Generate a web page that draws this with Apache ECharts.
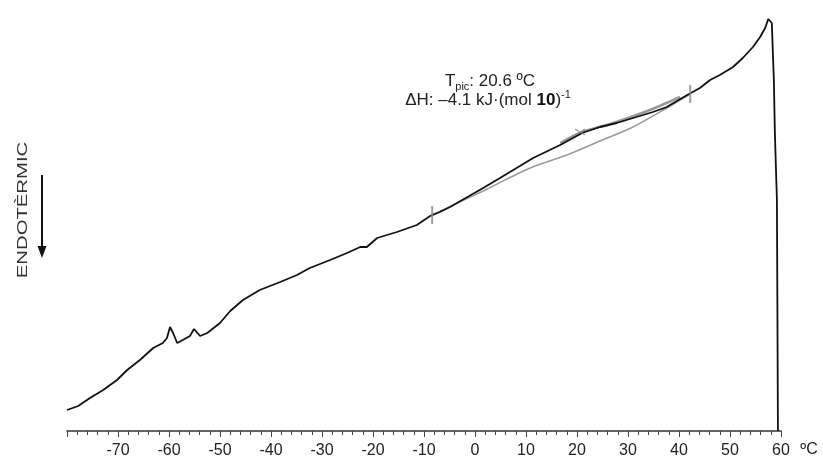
<!DOCTYPE html>
<html>
<head>
<meta charset="utf-8">
<style>
  html, body { margin: 0; padding: 0; background: #fff; }
  #container { width: 823px; height: 459px; }
</style>
<script src="https://cdn.jsdelivr.net/npm/echarts@6/dist/echarts.min.js"></script>
</head>
<body>
<div id="container"></div>
<script>
// DSC trace: temperature (ºC) and signal (arbitrary units, endo down)
var tempC = [-80.0, -77.8, -75.5, -72.9, -70.2, -68.2, -65.7, -63.1, -61.2, -60.4, -59.8, -59.2, -58.4, -57.3,
             -55.9, -55.1, -53.9, -52.5, -50.0, -48.0, -45.5, -42.2, -38.2, -34.9, -32.4, -28.4, -25.1, -22.5,
             -21.2, -19.2, -15.3, -11.4, -8.8, -6.9, -4.9, 1.6, 4.9, 11.4, 16.7, 21.0, 24.5, 27.8, 31.0, 34.9,
             37.6, 41.6, 44.1, 46.1, 48.0, 50.6, 52.5, 54.5, 55.9, 56.9, 57.5, 57.8, 58.2, 58.6, 58.8, 59.2, 59.4];
var heatFlow = [21, 25, 33, 41, 51, 61, 71, 83, 88, 93, 104, 98, 88, 91,
                95, 102, 95, 98, 108, 120, 131, 141, 149, 156, 163, 171, 178, 184,
                184, 193, 199, 206, 215, 219, 224, 243, 253, 273, 286, 298, 304, 308, 313, 319,
                324, 336, 343, 351, 356, 364, 373, 384, 394, 403, 412, 414, 408, 351, 298, 231, 0];

// integration baseline (grey)
var baseT = [-8.4, 1.6, 10.8, 18.0, 24.5, 31.0, 37.6, 42.2];
var baseV = [216, 240, 263, 276, 290, 304, 323, 337];

// grey overlay on the peak region
var overT = [16.7, 21.0, 26.5, 34.3, 40.2];
var overV = [288, 299, 307, 321, 334];

// integration limits and peak marker
var limitT = [-8.4, 42.2];
var limitV = [216, 337];
var peakT = 20.6;
var peakV = 299;

var xTicks = { min: -80, max: 60, interval: 10 };

function pairs(xs, ys) {
    var out = [];
    for (var i = 0; i < xs.length; i++) out.push([xs[i], ys[i]]);
    return out;
}

var font = "'Liberation Sans', Arial, sans-serif";
var chart = echarts.init(document.getElementById('container'));

var option = {
    animation: false,
    backgroundColor: '#fff',
    grid: { left: 67, right: 42, top: 0, bottom: 28 },
    xAxis: {
        type: 'value',
        min: xTicks.min,
        max: xTicks.max,
        interval: xTicks.interval,
        splitLine: { show: false },
        axisLine: { show: true, lineStyle: { color: '#333', width: 1.5 } },
        axisTick: { show: true, length: 6, lineStyle: { color: '#444', width: 1 } },
        minorTick: { show: true, splitNumber: 5, length: 4, lineStyle: { color: '#444', width: 1 } },
        axisLabel: { showMinLabel: false, margin: 12, fontSize: 16, fontFamily: font, color: '#222' }
    },
    yAxis: {
        type: 'value',
        min: 0,
        max: 431,
        show: false,
        splitLine: { show: false }
    },
    series: [
        {
            type: 'line',
            data: pairs(baseT, baseV),
            smooth: 0.3,
            symbol: 'none',
            lineStyle: { color: '#999', width: 1.5 },
            z: 2
        },
        {
            type: 'line',
            data: pairs(overT, overV),
            smooth: 0.3,
            symbol: 'none',
            lineStyle: { color: '#999', width: 2.5 },
            z: 2
        },
        {
            type: 'line',
            data: pairs(tempC, heatFlow),
            symbol: 'none',
            lineStyle: { color: '#111', width: 1.8 },
            z: 3
        },
        {
            type: 'scatter',
            data: pairs(limitT, limitV),
            symbol: 'rect',
            symbolSize: [2, 18],
            itemStyle: { color: '#888' },
            z: 4
        },
        {
            type: 'scatter',
            data: [[peakT, peakV]],
            symbol: 'path://M0,1L1,0L5,2.5L9,0L10,1L6,3L10,5L9,6L5,3.5L1,6L0,5L4,3Z',
            symbolSize: [11, 7],
            itemStyle: { color: '#888' },
            z: 4
        }
    ],
    graphic: [
        {
            type: 'text',
            x: 490, y: 81,
            style: {
                text: '{a|T}{s|pic}{a|: 20.6 ºC}',
                textAlign: 'center', align: 'center',
                textVerticalAlign: 'middle', verticalAlign: 'middle',
                rich: {
                    a: { fontSize: 17, fontFamily: font, fill: '#222', lineHeight: 22, verticalAlign: 'middle' },
                    s: { fontSize: 11, fontFamily: font, fill: '#222', lineHeight: 11, verticalAlign: 'bottom' }
                }
            }
        },
        {
            type: 'text',
            x: 488, y: 100,
            style: {
                text: '{a|ΔH: –4.1 kJ·(mol }{b|10}{a|)}{p|-1}',
                textAlign: 'center', align: 'center',
                textVerticalAlign: 'middle', verticalAlign: 'middle',
                rich: {
                    a: { fontSize: 17, fontFamily: font, fill: '#222', lineHeight: 22, verticalAlign: 'middle' },
                    b: { fontSize: 17, fontFamily: font, fill: '#111', fontWeight: 'bold', lineHeight: 22, verticalAlign: 'middle' },
                    p: { fontSize: 11, fontFamily: font, fill: '#222', lineHeight: 11, verticalAlign: 'top' }
                }
            }
        },
        {
            type: 'text',
            x: 809, y: 450,
            style: {
                text: 'ºC',
                font: '16px ' + font,
                fill: '#222',
                textAlign: 'center', align: 'center',
                textVerticalAlign: 'middle', verticalAlign: 'middle'
            }
        },
        {
            // vertical axis label
            type: 'text',
            x: 23, y: 210,
            rotation: Math.PI / 2,
            scaleX: 1.45,
            style: {
                text: 'ENDOTÈRMIC',
                font: '14px ' + font,
                fill: '#333',
                textAlign: 'center', align: 'center',
                textVerticalAlign: 'middle', verticalAlign: 'middle'
            }
        },
        {
            type: 'line',
            shape: { x1: 42, y1: 175, x2: 42, y2: 248 },
            style: { stroke: '#111', lineWidth: 2 }
        },
        {
            type: 'polygon',
            shape: { points: [[37.5, 246], [46.5, 246], [42, 258]] },
            style: { fill: '#111' }
        }
    ]
};

chart.setOption(option);
</script>
</body>
</html>
